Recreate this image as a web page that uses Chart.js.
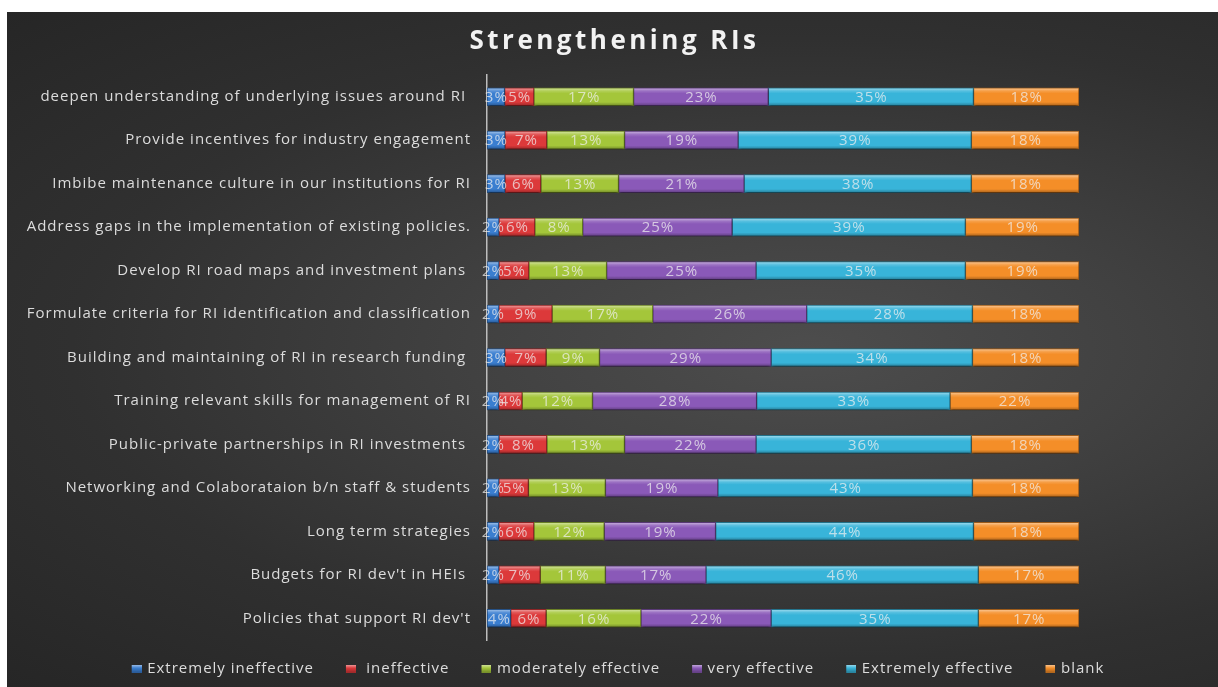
<!DOCTYPE html>
<html lang="en">
<head>
<meta charset="UTF-8">
<title>Strengthening RIs</title>
<style>
    body {
        margin: 0;
        background: #ffffff;
        overflow: hidden;
    }

    .panel {
        position: absolute;
        left: 7px;
        top: 12px;
        width: 1211px;
        height: 675px;
        background: radial-gradient(ellipse at 66% 50%, #4d4d4d 0%, #414141 30%, #303030 65%, #262626 100%);
    }
</style>
</head>
<body>

<div class="panel">
    <canvas id="riChart"></canvas>
</div>

<script src="https://cdn.jsdelivr.net/npm/chart.js"></script>
<script>
    const TITLE = 'Strengthening RIs';

    const statements = [
        'deepen understanding of underlying issues around RI ',
        'Provide incentives for industry engagement',
        'Imbibe maintenance culture in our institutions for RI',
        'Address gaps in the implementation of existing policies.',
        'Develop RI road maps and investment plans ',
        'Formulate criteria for RI identification and classification',
        'Building and maintaining of RI in research funding ',
        'Training relevant skills for management of RI',
        'Public-private partnerships in RI investments ',
        'Networking and Colaborataion b/n staff & students',
        'Long term strategies',
        "Budgets for RI dev't in HEIs ",
        "Policies that support RI dev't"
    ];

    const seriesNames = ['Extremely ineffective', ' ineffective', 'moderately effective', 'very effective', 'Extremely effective', 'blank'];

    // percentages per statement, top row first
    const extremelyIneffective = [3, 3, 3, 2, 2, 2, 3, 2, 2, 2, 2, 2, 4];
    const ineffective          = [5, 7, 6, 6, 5, 9, 7, 4, 8, 5, 6, 7, 6];
    const moderatelyEffective  = [17, 13, 13, 8, 13, 17, 9, 12, 13, 13, 12, 11, 16];
    const veryEffective        = [23, 19, 21, 25, 25, 26, 29, 28, 22, 19, 19, 17, 22];
    const extremelyEffective   = [35, 39, 38, 39, 35, 28, 34, 33, 36, 43, 44, 46, 35];
    const blank                = [18, 18, 18, 19, 19, 18, 18, 22, 18, 18, 18, 17, 17];

    const seriesValues = [extremelyIneffective, ineffective, moderatelyEffective, veryEffective, extremelyEffective, blank];
    const seriesColors = ['#3a7ed0', '#dc393a', '#a4c63a', '#8a59b8', '#38b4d9', '#f48e28'];

    const BAR_THICKNESS = 18;
    const FONT = '"Open Sans", "DejaVu Sans", sans-serif';

    // each row is shown as a 100% stack
    const rowTotals = statements.map((_, i) => seriesValues.reduce((sum, arr) => sum + arr[i], 0));

    function shade(hex, amt) {
        const n = parseInt(hex.slice(1), 16);
        const target = amt < 0 ? 0 : 255;
        const p = Math.abs(amt);
        const mix = c => Math.round(c + (target - c) * p);
        return `rgb(${mix(n >> 16)},${mix((n >> 8) & 255)},${mix(n & 255)})`;
    }

    // vertical gradient that gives the bars a bevelled look
    function bevelFill(base) {
        return (context) => {
            const chart = context.chart;
            if (!chart.chartArea || context.type !== 'data') return base;
            const yc = chart.scales.y.getPixelForValue(context.dataIndex);
            const h = BAR_THICKNESS / 2;
            const g = chart.ctx.createLinearGradient(0, yc - h, 0, yc + h);
            g.addColorStop(0, shade(base, 0.55));
            g.addColorStop(0.18, shade(base, 0.15));
            g.addColorStop(0.32, base);
            g.addColorStop(0.8, base);
            g.addColorStop(1, shade(base, -0.3));
            return g;
        };
    }

    // legend marker: small bevelled square, transparent space on the left
    function makeMarker(color) {
        const c = document.createElement('canvas');
        c.width = 23;
        c.height = 8;
        const g = c.getContext('2d');
        const grad = g.createLinearGradient(0, 0, 0, 8);
        grad.addColorStop(0, shade(color, 0.55));
        grad.addColorStop(0.45, color);
        grad.addColorStop(1, shade(color, -0.3));
        g.fillStyle = grad;
        g.fillRect(13, 0, 10, 8);
        return c;
    }
    const legendMarkers = seriesColors.map(makeMarker);

    const datasets = seriesNames.map((name, s) => ({
        label: name,
        data: seriesValues[s].map((v, i) => v / rowTotals[i] * 100),
        backgroundColor: bevelFill(seriesColors[s]),
        borderColor: shade(seriesColors[s], -0.35),
        borderWidth: 1,
        borderSkipped: false,
        barThickness: BAR_THICKNESS
    }));

    // wide letter spacing for ticks and legend
    const tracking = {
        id: 'tracking',
        beforeLayout(chart) { chart.ctx.letterSpacing = '1px'; },
        beforeDraw(chart) { chart.ctx.letterSpacing = '1px'; }
    };

    // drop shadow under bars and the percentage inside every segment
    const segmentLabels = {
        id: 'segmentLabels',
        beforeDatasetsDraw(chart) {
            const ctx = chart.ctx;
            ctx.save();
            ctx.shadowColor = 'rgba(0,0,0,0.5)';
            ctx.shadowBlur = 3;
            ctx.shadowOffsetY = 2;
        },
        afterDatasetsDraw(chart) {
            const ctx = chart.ctx;
            ctx.restore();
            ctx.save();
            ctx.font = '15px ' + FONT;
            ctx.letterSpacing = '1px';
            ctx.fillStyle = 'rgba(240,240,240,0.72)';
            ctx.textAlign = 'center';
            ctx.textBaseline = 'middle';
            chart.data.datasets.forEach((ds, d) => {
                chart.getDatasetMeta(d).data.forEach((bar, i) => {
                    const {x, base, y} = bar.getProps(['x', 'base', 'y'], true);
                    ctx.fillText(seriesValues[d][i] + '%', (x + base) / 2 + 0.5, y + 1);
                });
            });
            ctx.restore();
        }
    };

    const chartTitle = {
        id: 'chartTitle',
        afterDraw(chart) {
            const ctx = chart.ctx;
            ctx.save();
            ctx.font = 'bold 26px ' + FONT;
            ctx.letterSpacing = '3.5px';
            ctx.fillStyle = '#f2f2f2';
            ctx.textAlign = 'center';
            ctx.textBaseline = 'alphabetic';
            ctx.fillText(TITLE, chart.width / 2 + 2, 37);
            ctx.restore();
        }
    };

    const ctx = document.getElementById('riChart').getContext('2d');

    new Chart(ctx, {
        type: 'bar',
        data: {
            labels: statements,
            datasets: datasets
        },
        options: {
            indexAxis: 'y',
            responsive: true,
            maintainAspectRatio: false,
            animation: false,
            layout: {
                padding: { top: 63, bottom: 1, left: 0, right: 0 }
            },
            scales: {
                x: {
                    stacked: true,
                    min: 0,
                    max: 100,
                    display: false
                },
                y: {
                    stacked: true,
                    grid: { display: false, drawTicks: false },
                    border: { display: true, color: '#bdbdbd', width: 1.5 },
                    ticks: {
                        color: '#dcdcdc',
                        font: { family: FONT, size: 15 },
                        padding: 16,
                        autoSkip: false
                    },
                    afterFit(scale) { scale.width = 480; }
                },
                // empty strip to the right of the plot
                gutter: {
                    axis: 'y',
                    type: 'category',
                    position: 'right',
                    grid: { display: false },
                    border: { display: false },
                    ticks: { display: false },
                    afterFit(scale) { scale.width = 139; }
                }
            },
            plugins: {
                legend: {
                    position: 'bottom',
                    labels: {
                        color: '#dcdcdc',
                        font: { family: FONT, size: 15 },
                        padding: 21,
                        usePointStyle: true,
                        pointStyleWidth: 19,
                        generateLabels(chart) {
                            return Chart.defaults.plugins.legend.labels.generateLabels(chart)
                                .map((item, i) => ({ ...item, pointStyle: legendMarkers[i] }));
                        }
                    }
                },
                tooltip: { enabled: false }
            }
        },
        plugins: [tracking, segmentLabels, chartTitle]
    });
</script>

</body>
</html>
